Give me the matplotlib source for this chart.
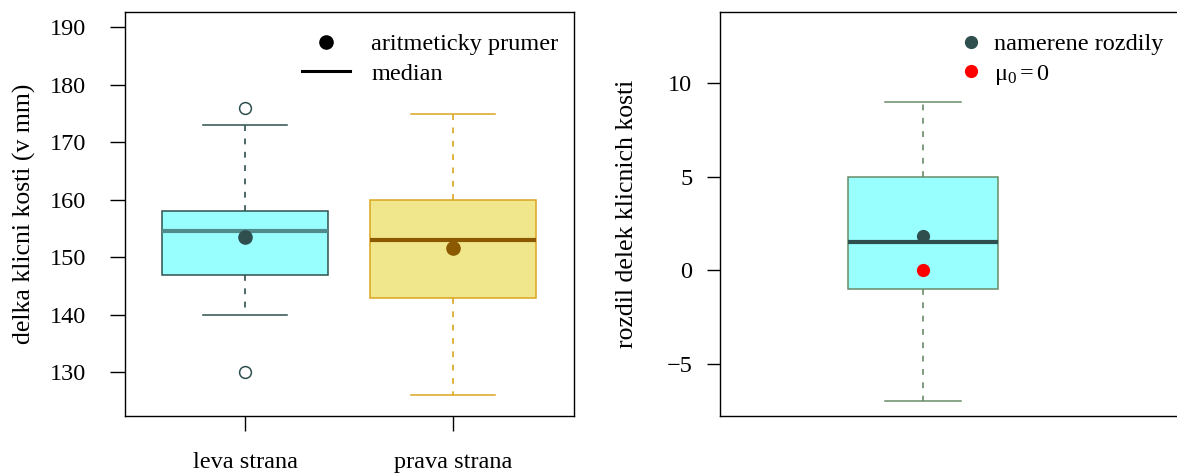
import matplotlib.pyplot as plt
from matplotlib.lines import Line2D

plt.rcParams['font.family'] = ['Liberation Serif', 'DejaVu Serif']
plt.rcParams['mathtext.fontset'] = 'custom'
plt.rcParams['mathtext.rm'] = 'Liberation Serif'
plt.rcParams['mathtext.it'] = 'Liberation Serif:italic'
plt.rcParams['font.size'] = 17.5

# clavicle lengths, left vs right side (five-number summaries)
groups = ['leva strana', 'prava strana']
whisk_lo = [140, 126]
q1 = [147, 143]
medians = [154.5, 153]
q3 = [158, 160]
whisk_hi = [173, 175]
means = [153.5, 151.7]
outliers = [[130, 176], []]

# differences left - right
diff_stats = dict(whislo=-7, q1=-1, med=1.5, q3=5, whishi=9, mean=1.85, fliers=[])
mu0 = 0

box_fill = ['#98FEFE', '#F0E68C']
box_edge = ['#2F4F4F', '#DAA520']
med_col = ['#528B8B', '#8B5A00']
mean_col = ['#2F4F4F', '#8B5A00']
dash = (0, (3.5, 4.5))

W, H = 1177, 474
fig = plt.figure(figsize=(W / 100, H / 100), dpi=100)

ax1 = fig.add_axes([124.5 / W, 58 / H, 449 / W, 403.7 / H])
ax2 = fig.add_axes([719.5 / W, 58 / H, 480.5 / W, 403.7 / H])

for i in range(2):
    st = dict(whislo=whisk_lo[i], q1=q1[i], med=medians[i], q3=q3[i],
              whishi=whisk_hi[i], fliers=outliers[i])
    ax1.bxp([st], positions=[i + 1], widths=0.8, patch_artist=True,
            showfliers=True, showcaps=True,
            boxprops=dict(facecolor=box_fill[i], edgecolor=box_edge[i], linewidth=1.1),
            whiskerprops=dict(color=box_edge[i], linewidth=1.2, linestyle=dash),
            capprops=dict(color=box_edge[i], linewidth=1.1),
            medianprops=dict(color=med_col[i], linewidth=3.0, solid_capstyle='butt'),
            flierprops=dict(marker='o', markerfacecolor='white', markeredgecolor=box_edge[i],
                            markersize=8.5, markeredgewidth=1.1),
            capwidths=0.4)
    ax1.plot(i + 1, means[i], 'o', color=mean_col[i], markersize=9.5, zorder=5)

ax1.set_xlim(0.42, 2.58)
ax1.set_ylim(122.4, 192.6)
ax1.set_xticks([1, 2])
ax1.set_xticklabels(groups)
ax1.set_yticks(range(130, 191, 10))
ax1.tick_params(axis='y', length=10.8, width=1.0, pad=17)
ax1.tick_params(axis='x', length=10.8, width=1.0, pad=15)
ax1.set_ylabel('delka klicni kosti (v mm)', fontsize=18.5)
ax1.yaxis.set_label_coords(-0.197, 0.5)

leg1 = [Line2D([], [], marker='o', color='black', linestyle='none', markersize=9.5),
        Line2D([], [], color='black', linewidth=2.2)]
ax1.legend(leg1, ['aritmeticky prumer', 'median'], loc='upper right',
           bbox_to_anchor=(1.004, 0.99), frameon=False, fontsize=17.5,
           handlelength=2.0, handletextpad=0.86, labelspacing=0.3, borderaxespad=0.3)

ax2.bxp([diff_stats], positions=[1], widths=0.4, patch_artist=True, showfliers=False,
        boxprops=dict(facecolor='#98FEFE', edgecolor='#698B69', linewidth=1.1),
        whiskerprops=dict(color='#698B69', linewidth=1.2, linestyle=dash),
        capprops=dict(color='#698B69', linewidth=1.1),
        medianprops=dict(color='#2F4F4F', linewidth=3.0, solid_capstyle='butt'),
        capwidths=0.2)
ax2.plot(1, diff_stats['mean'], 'o', color='#2F4F4F', markersize=8.5, zorder=5)
ax2.plot(1, mu0, 'o', color='#FF0000', markersize=8.5, zorder=5)

ax2.set_xlim(0.46, 0.46 + 480.5 / 376.7)
ax2.set_ylim(-7.8, 13.8)
ax2.set_xticks([])
ax2.set_yticks([-5, 0, 5, 10])
ax2.set_yticklabels(['\u22125', '0', '5', '10'])
ax2.tick_params(axis='y', length=9.5, width=1.0, pad=10)
ax2.set_ylabel('rozdil delek klicnich kosti', fontsize=18.5)
ax2.yaxis.set_label_coords(-0.170, 0.5)

leg2 = [Line2D([], [], marker='o', color='#2F4F4F', linestyle='none', markersize=8.5),
        Line2D([], [], marker='o', color='#FF0000', linestyle='none', markersize=8.5)]
ax2.legend(leg2, ['namerene rozdily', r'$\mathrm{\mu}_0 = 0$'], loc='upper left',
           bbox_to_anchor=(0.463, 0.99), frameon=False, fontsize=17.5,
           handlelength=1.0, handletextpad=0.45, labelspacing=0.3, borderaxespad=0.3)

for ax in (ax1, ax2):
    for s in ax.spines.values():
        s.set_linewidth(1.0)

fig.savefig('out.png', dpi=100)
